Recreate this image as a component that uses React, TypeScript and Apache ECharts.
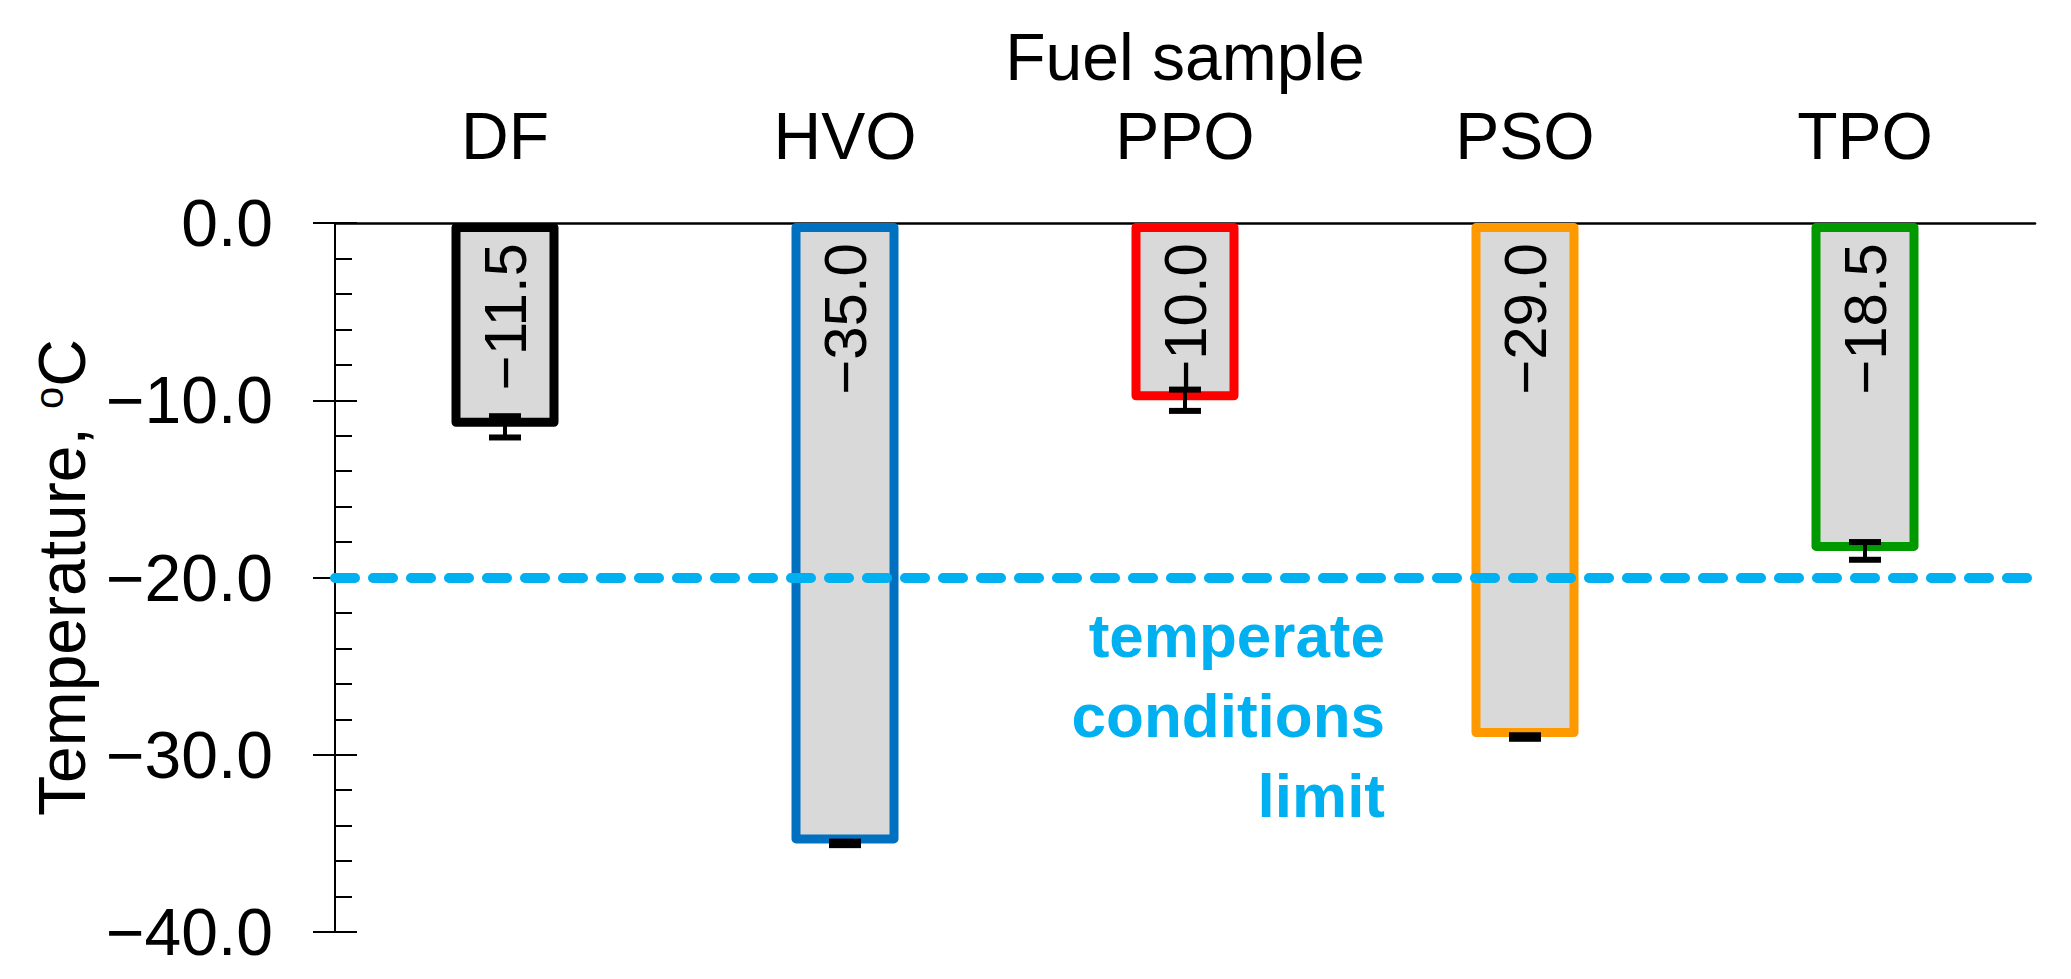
import React, { useEffect, useRef } from "react";
import * as echarts from "echarts";

// ---- data ----
const categories = ["DF", "HVO", "PPO", "PSO", "TPO"];
const values = [-11.5, -35.0, -10.0, -29.0, -18.5];
const errors = [0.6, 0.1, 0.6, 0.1, 0.5];
const borderColors = ["#000000", "#0070C0", "#FF0000", "#FF9900", "#009A00"];
const yMin = -40;
const yMax = 0;
const yInterval = 10;
const limitValue = -20;
const limitLines = ["temperate", "conditions", "limit"];
const xTitle = "Fuel sample";
const yTitle = "Temperature, {sup|o}C";

const FONT = "'Liberation Sans', Arial, Helvetica, sans-serif";
const fmt = (v: number) =>
  v < 0 ? "\u2212" + Math.abs(v).toFixed(1) : Math.abs(v).toFixed(1);

export default function App() {
  const ref = useRef<HTMLDivElement>(null);
  useEffect(() => {
    if (!ref.current) return;
    const chart = echarts.init(ref.current, null, { renderer: "svg" });
    const option: any = {
      animation: false,
      backgroundColor: "#ffffff",
      textStyle: { fontFamily: FONT },
      grid: { left: 335, right: 36, top: 223, bottom: 47, containLabel: false },
      xAxis: {
        type: "category",
        data: categories,
        position: "top",
        axisLine: { show: true, lineStyle: { color: "#000", width: 2.5 } },
        axisTick: { show: false },
        axisLabel: { fontSize: 66, color: "#000", margin: 54, fontFamily: FONT },
        name: xTitle,
        nameLocation: "middle",
        nameGap: 133,
        nameTextStyle: { fontSize: 66, color: "#000", fontFamily: FONT },
        splitLine: { show: false },
      },
      yAxis: [
        {
          type: "value",
          min: yMin,
          max: yMax,
          interval: yInterval,
          position: "left",
          axisLine: { show: true, onZero: false, lineStyle: { color: "#000", width: 2 } },
          axisTick: { show: true, inside: false, length: 22, lineStyle: { color: "#000", width: 2 } },
          minorTick: { show: false },
          splitLine: { show: false },
          axisLabel: {
            fontSize: 66,
            color: "#000",
            margin: 62,
            fontFamily: FONT,
            formatter: (v: number) => fmt(v),
          },
          name: yTitle,
          nameLocation: "middle",
          nameGap: 238,
          nameTextStyle: {
            fontSize: 66,
            color: "#000",
            fontFamily: FONT,
            rich: {
              sup: { fontSize: 40, verticalAlign: "top", color: "#000", fontFamily: FONT },
            },
          },
        },
        {
          type: "value",
          min: yMin,
          max: yMax,
          interval: yInterval,
          position: "left",
          axisLine: { show: false },
          axisTick: { show: true, inside: true, length: 22, lineStyle: { color: "#000", width: 2 } },
          minorTick: { show: true, splitNumber: 5, length: 17, lineStyle: { color: "#000", width: 2 } },
          splitLine: { show: false },
          minorSplitLine: { show: false },
          axisLabel: { show: false },
        },
      ],
      series: [
        {
          type: "bar",
          yAxisIndex: 0,
          barWidth: 107,
          data: values.map((v, i) => ({
            value: v,
            itemStyle: {
              color: "#D9D9D9",
              borderColor: borderColors[i],
              borderWidth: 9,
              borderJoin: "round",
            },
          })),
          label: {
            show: true,
            position: "insideTop",
            distance: 20,
            rotate: 90,
            align: "right",
            verticalAlign: "middle",
            fontSize: 60,
            color: "#000",
            fontFamily: FONT,
            formatter: (p: any) => fmt(p.value),
          },
          markLine: {
            silent: true,
            symbol: ["none", "none"],
            label: { show: false },
            lineStyle: { color: "#00B0F0", width: 10, type: [20, 18], cap: "round" },
            data: [{ yAxis: limitValue }],
          },
          z: 2,
        },
        {
          type: "custom",
          yAxisIndex: 0,
          z: 4,
          data: values.map((v, i) => [i, v, errors[i]]),
          renderItem: (params: any, api: any) => {
            const x = api.value(0);
            const v = api.value(1);
            const e = api.value(2);
            const top = api.coord([x, v + e]);
            const bot = api.coord([x, v - e]);
            const half = 16;
            return {
              type: "group",
              children: [
                { type: "line", shape: { x1: top[0], y1: top[1], x2: bot[0], y2: bot[1] }, style: { stroke: "#000", lineWidth: 4 } },
                { type: "line", shape: { x1: top[0] - half, y1: top[1], x2: top[0] + half, y2: top[1] }, style: { stroke: "#000", lineWidth: 6 } },
                { type: "line", shape: { x1: bot[0] - half, y1: bot[1], x2: bot[0] + half, y2: bot[1] }, style: { stroke: "#000", lineWidth: 6 } },
              ],
            };
          },
        },
      ],
      graphic: [
        {
          type: "text",
          x: 1385,
          y: 595,
          z: 10,
          style: {
            text: limitLines.join("\n"),
            align: "right",
            verticalAlign: "top",
            font: `bold 62px ${FONT}`,
            lineHeight: 80,
            fill: "#00B0F0",
          },
        },
      ],
    };
    chart.setOption(option);
    return () => chart.dispose();
  }, []);
  return (
    <div
      ref={ref}
      style={{ position: "absolute", left: 0, top: 0, width: 2071, height: 979 }}
    />
  );
}
